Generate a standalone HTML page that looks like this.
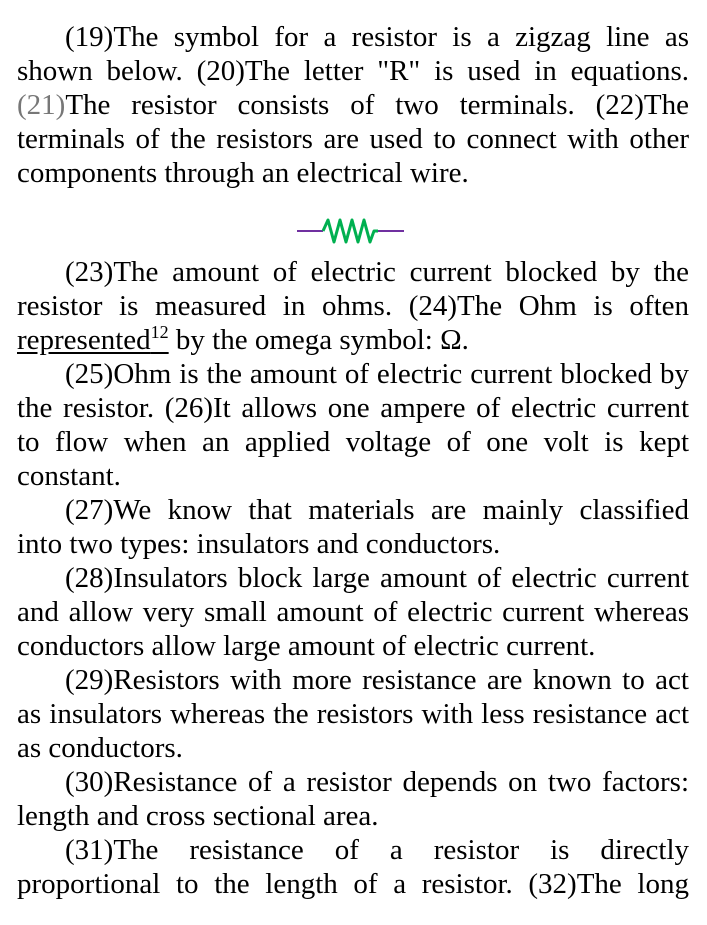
<!DOCTYPE html>
<html><head><meta charset="utf-8"><style>
html,body{margin:0;padding:0;background:#fff;width:707px;height:925px;overflow:hidden}
body{font-family:"Liberation Serif",serif;font-size:29px;color:#000;position:relative}
.l{position:absolute;left:17px;width:672px;height:34px;line-height:34px;white-space:nowrap;text-align:justify;text-align-last:justify}
.i{left:65px;width:624px}
.e{text-align-last:left}
.g{color:#777}
sup{font-size:18px;vertical-align:0;position:relative;top:-11px;line-height:0}
u{text-underline-offset:3px}
</style></head><body>
<div class="l i" style="top:20px">(19)The symbol for a resistor is a zigzag line as</div>
<div class="l" style="top:54px">shown below. (20)The letter "R" is used in equations.</div>
<div class="l" style="top:88px"><span class="g">(21)</span>The resistor consists of two terminals. (22)The</div>
<div class="l" style="top:122px">terminals of the resistors are used to connect with other</div>
<div class="l e" style="top:156px">components through an electrical wire.</div>
<svg style="position:absolute;left:290px;top:212px" width="125" height="40">
<line x1="7" y1="19" x2="33" y2="19" stroke="#7030a0" stroke-width="2"/>
<polyline points="33,19 38,8 44,30 50,8 56,30 62,8 68,30 74,8 80,30 84,19 88,19" fill="none" stroke="#00b050" stroke-width="3" stroke-linejoin="round"/>
<line x1="88" y1="19" x2="114" y2="19" stroke="#7030a0" stroke-width="2"/>
</svg>
<div class="l i" style="top:255px">(23)The amount of electric current blocked by the</div>
<div class="l" style="top:289px">resistor is measured in ohms. (24)The Ohm is often</div>
<div class="l e" style="top:323px"><u>represented<sup>12</sup></u> by the omega symbol: Ω.</div>
<div class="l i" style="top:357px">(25)Ohm is the amount of electric current blocked by</div>
<div class="l" style="top:391px">the resistor. (26)It allows one ampere of electric current</div>
<div class="l" style="top:425px">to flow when an applied voltage of one volt is kept</div>
<div class="l e" style="top:459px">constant.</div>
<div class="l i" style="top:493px">(27)We know that materials are mainly classified</div>
<div class="l e" style="top:527px">into two types: insulators and conductors.</div>
<div class="l i" style="top:561px">(28)Insulators block large amount of electric current</div>
<div class="l" style="top:595px">and allow very small amount of electric current whereas</div>
<div class="l e" style="top:629px">conductors allow large amount of electric current.</div>
<div class="l i" style="top:663px">(29)Resistors with more resistance are known to act</div>
<div class="l" style="top:697px">as insulators whereas the resistors with less resistance act</div>
<div class="l e" style="top:731px">as conductors.</div>
<div class="l i" style="top:765px">(30)Resistance of a resistor depends on two factors:</div>
<div class="l e" style="top:799px">length and cross sectional area.</div>
<div class="l i" style="top:833px">(31)The resistance of a resistor is directly</div>
<div class="l" style="top:867px">proportional to the length of a resistor. (32)The long</div>
</body></html>
